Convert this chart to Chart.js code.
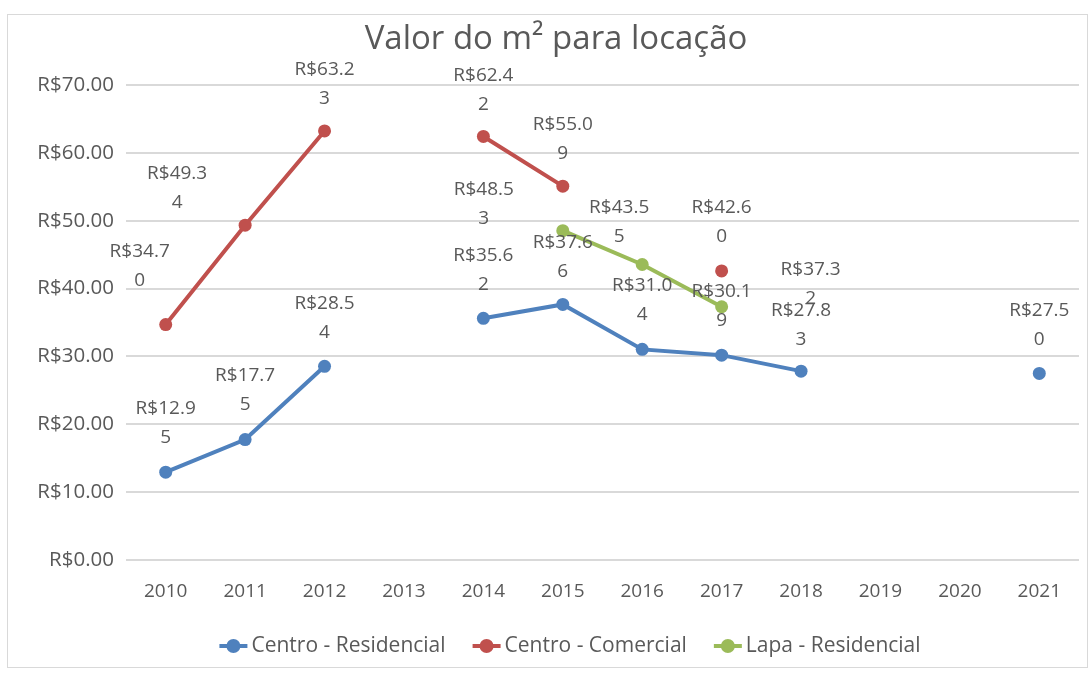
<!DOCTYPE html>
<html>
<head>
<meta charset="utf-8">
<script src="https://cdn.jsdelivr.net/npm/chart.js@4.4.1/dist/chart.umd.min.js"></script>
<style>
  html, body { margin: 0; padding: 0; background: #ffffff; }
  #wrap { position: relative; width: 1092px; height: 676px; }
</style>
</head>
<body>
<div id="wrap"><canvas id="c" width="1092" height="676"></canvas></div>
<script>
// ---- data ----
const chartTitle = 'Valor do m² para locação';
const years = ['2010','2011','2012','2013','2014','2015','2016','2017','2018','2019','2020','2021'];
const seriesNames = ['Centro - Residencial', 'Centro - Comercial', 'Lapa - Residencial'];
const centroResidencial = [12.95, 17.75, 28.54, null, 35.62, 37.66, 31.04, 30.19, 27.83, null, null, 27.50];
const centroComercial   = [34.70, 49.34, 63.23, null, 62.42, 55.09, null, 42.60, null, null, null, null];
const lapaResidencial   = [null, null, null, null, null, 48.53, 43.55, 37.32, null, null, null, null];
const yTickValues = [0, 10, 20, 30, 40, 50, 60, 70];

// ---- styles ----
const colors = ['#4F81BD', '#C0504D', '#9BBB59'];
const textColor = '#595959';
const fontFamily = "'Open Sans', 'DejaVu Sans', sans-serif";
// label offsets (dx, dy of first line) relative to each point
const labelOffsets = [
  [[0,-64],[0,-64],[0,-63],null,[0,-63],[0,-62],[0,-64],[0,-64],[0,-61],null,null,[0,-63]],
  [[-26,-73],[-68,-52],[0,-61],null,[0,-61],[0,-62],null,[0,-63],null,null,null,null],
  [null,null,null,null,null,[-79,-41],[-23,-57],[89,-37],null,null,null,null]
];

function fmt(v) { return 'R$' + v.toFixed(2); }

const decor = {
  id: 'decor',
  beforeDraw(chart) {
    const ctx = chart.ctx;
    ctx.save();
    ctx.fillStyle = '#ffffff';
    ctx.fillRect(0, 0, chart.width, chart.height);
    ctx.strokeStyle = '#d9d9d9';
    ctx.lineWidth = 1;
    ctx.strokeRect(7.5, 14.5, 1080, 653);
    // title
    ctx.fillStyle = textColor;
    ctx.font = '33px ' + fontFamily;
    ctx.textAlign = 'center';
    ctx.textBaseline = 'alphabetic';
    ctx.fillText(chartTitle, 556, 49);
    ctx.restore();
  },
  afterDatasetsDraw(chart) {
    const ctx = chart.ctx;
    ctx.save();
    ctx.fillStyle = textColor;
    ctx.font = '19px ' + fontFamily;
    ctx.textAlign = 'center';
    ctx.textBaseline = 'middle';
    chart.data.datasets.forEach((ds, di) => {
      const meta = chart.getDatasetMeta(di);
      ds.data.forEach((v, i) => {
        if (v === null) return;
        const pt = meta.data[i];
        const off = labelOffsets[di][i] || [0, -63];
        const s = fmt(v);
        const l1 = s.slice(0, 6), l2 = s.slice(6);
        ctx.fillText(l1, pt.x + off[0], pt.y + off[1]);
        ctx.fillText(l2, pt.x + off[0], pt.y + off[1] + 29);
      });
    });
    // legend
    ctx.font = '21px ' + fontFamily;
    ctx.textAlign = 'left';
    const markerW = 28, gapText = 4, gapItem = 27;
    const widths = seriesNames.map(n => ctx.measureText(n).width);
    const total = widths.reduce((a, w) => a + markerW + gapText + w, 0) + gapItem * (seriesNames.length - 1);
    let x = 570 - total / 2;
    const y = 646;
    seriesNames.forEach((n, i) => {
      ctx.strokeStyle = colors[i];
      ctx.lineWidth = 4;
      ctx.beginPath();
      ctx.moveTo(x, y); ctx.lineTo(x + markerW, y); ctx.stroke();
      ctx.fillStyle = colors[i];
      ctx.beginPath();
      ctx.arc(x + markerW / 2, y, 7, 0, Math.PI * 2); ctx.fill();
      ctx.fillStyle = textColor;
      ctx.fillText(n, x + markerW + gapText, y);
      x += markerW + gapText + widths[i] + gapItem;
    });
    ctx.restore();
  }
};

const seriesValues = [centroResidencial, centroComercial, lapaResidencial];
new Chart(document.getElementById('c'), {
  type: 'line',
  data: {
    labels: years,
    datasets: seriesNames.map((n, i) => ({
      label: n,
      data: seriesValues[i],
      borderColor: colors[i],
      backgroundColor: colors[i],
      borderWidth: 4,
      pointRadius: 6.5,
      pointHoverRadius: 6.5,
      pointBorderWidth: 0,
      spanGaps: false,
      tension: 0
    }))
  },
  options: {
    responsive: false,
    animation: false,
    devicePixelRatio: 1,
    layout: { padding: { left: 8, right: 13, top: 85, bottom: 66 } },
    plugins: { legend: { display: false }, title: { display: false }, tooltip: { enabled: false } },
    scales: {
      x: {
        offset: true,
        grid: { display: false, drawTicks: false },
        border: { display: false },
        ticks: { color: textColor, font: { family: fontFamily, size: 19 }, padding: 20, maxRotation: 0, autoSkip: false },
        afterFit(s) { s.height = 50; }
      },
      y: {
        min: 0, max: 70,
        afterBuildTicks(s) { s.ticks = yTickValues.map(v => ({ value: v })); },
        grid: { color: '#d9d9d9', lineWidth: 2, drawTicks: false },
        border: { display: false },
        ticks: { color: textColor, font: { family: fontFamily, size: 20.5 }, padding: 12,
                 callback: v => fmt(v) },
        afterFit(s) { s.width = 118; }
      }
    }
  },
  plugins: [decor]
});
</script>
</body>
</html>
